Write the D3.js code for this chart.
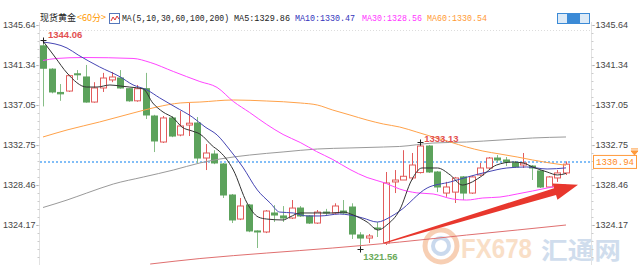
<!DOCTYPE html>
<html>
<head>
<meta charset="utf-8">
<script src="https://cdn.jsdelivr.net/npm/d3@7"></script>
<style>
body { margin: 0; background: #fff; }
svg { display: block; font-family: "Liberation Sans", Arial, sans-serif; }
</style>
</head>
<body>
<script>
var width = 640, height = 280;

// hourly candles, oldest first
var opens  = [1343.40,1340.90,1338.40,1338.55,1340.40,1340.06,1337.37,1338.88,1339.74,1339.95,1338.80,1337.50,1338.80,1335.87,1333.08,1335.66,1333.83,1334.90,1335.12,1331.36,1331.79,1330.72,1327.39,1324.81,1326.32,1323.53,1323.42,1325.46,1325.14,1324.92,1325.99,1325.14,1324.38,1325.56,1325.46,1325.67,1326.10,1323.10,1322.77,1323.85,1322.24,1328.79,1329.00,1329.22,1329.80,1332.65,1329.86,1327.60,1327.70,1329.33,1327.60,1329.54,1330.29,1331.36,1331.15,1330.83,1330.61,1330.50,1329.97,1328.25,1329.22,1329.76];
var highs  = [1344.06,1341.00,1339.30,1340.30,1340.80,1341.35,1339.50,1340.50,1340.60,1340.80,1338.90,1339.20,1340.50,1336.00,1335.87,1335.87,1336.40,1337.27,1335.76,1332.86,1332.20,1330.83,1327.50,1327.07,1326.43,1323.60,1325.78,1326.30,1326.20,1326.85,1326.20,1325.24,1325.78,1325.90,1326.50,1326.85,1326.50,1323.40,1323.20,1324.50,1329.86,1330.07,1332.20,1331.90,1333.13,1332.76,1329.97,1328.80,1329.33,1329.43,1329.43,1330.83,1331.47,1331.68,1331.47,1331.04,1331.90,1330.61,1330.07,1329.43,1330.07,1331.00];
var lows   = [1336.90,1338.30,1337.50,1338.45,1339.74,1337.30,1337.30,1338.45,1339.50,1338.80,1337.40,1337.40,1335.55,1332.00,1332.97,1333.60,1333.70,1333.72,1330.83,1330.07,1330.70,1327.07,1324.38,1324.70,1323.40,1321.70,1323.30,1324.50,1324.50,1324.81,1325.03,1324.28,1324.28,1325.14,1325.35,1325.35,1322.67,1321.56,1322.24,1322.88,1322.03,1327.60,1329.00,1329.00,1329.70,1329.76,1327.70,1327.20,1326.53,1326.85,1327.50,1329.43,1330.18,1330.94,1330.50,1330.29,1330.29,1329.00,1328.14,1328.14,1328.79,1329.54];
var closes = [1341.00,1338.45,1338.25,1340.20,1340.35,1337.37,1338.88,1339.95,1340.06,1338.88,1337.50,1338.80,1335.98,1333.19,1335.66,1333.72,1334.80,1335.10,1331.36,1331.90,1330.83,1327.39,1324.71,1326.21,1323.53,1323.42,1325.67,1325.24,1324.92,1325.99,1325.14,1324.38,1325.56,1325.46,1326.21,1325.46,1323.20,1322.77,1322.99,1323.75,1328.68,1329.00,1329.40,1330.61,1332.65,1329.86,1328.25,1328.25,1329.22,1327.60,1329.33,1330.29,1331.36,1331.15,1330.94,1330.40,1330.83,1330.29,1328.25,1329.33,1329.76,1330.70];

// moving averages: [candle index, value]
var ma5 = [[0,1343.92],[1.4,1342.20],[2.8,1340.49],[5.1,1338.98],[6.3,1338.98],[7.8,1339.20],[9,1339.09],[10.1,1338.98],[11.7,1338.77],[12.8,1337.27],[14,1336.30],[15.2,1335.66],[16.2,1334.69],[17.4,1334.26],[18.3,1333.94],[19.9,1332.55],[20.4,1332.22],[22.2,1330.07],[23.8,1326.53],[25.1,1325.03],[26.1,1324.81],[28,1324.71],[28.8,1325.03],[30,1325.46],[32,1325.46],[33.8,1325.46],[35,1325.56],[36.2,1325.24],[37.8,1324.49],[39.1,1323.63],[40.1,1324.17],[41.6,1325.78],[43,1329.00],[44.2,1330.29],[46,1330.29],[47.5,1329.54],[48.9,1328.46],[49.8,1328.68],[51,1329.32],[52.9,1330.61],[54.8,1330.93],[56,1330.83],[57.1,1330.40],[58.8,1329.86],[60,1329.54],[61,1329.70]];
var ma10 = [[0,1343.81],[2.8,1343.17],[4.1,1342.42],[6.6,1341.14],[9,1340.07],[10.5,1339.21],[12.1,1338.68],[13.6,1337.82],[15.4,1336.85],[17.4,1335.77],[18.9,1334.70],[20.3,1333.84],[21.8,1332.22],[23.3,1330.39],[25,1327.93],[26.5,1326.53],[27.6,1325.56],[29.2,1325.46],[30.8,1325.14],[32.3,1325.14],[34.6,1325.35],[35.8,1325.24],[37.3,1324.92],[39,1324.49],[40.5,1325.03],[41.6,1325.67],[44.8,1328.14],[47.5,1328.79],[49.5,1329.32],[51.8,1329.86],[54.1,1330.29],[56.4,1330.40],[58.8,1330.18],[61,1330.30]];
var ma30 = [[0,1341.83],[1.6,1342.05],[4.7,1342.15],[10.5,1342.05],[12.5,1341.62],[15.2,1340.65],[18.3,1339.57],[20.3,1338.94],[22.2,1337.43],[24.1,1336.25],[26.1,1334.96],[28,1333.89],[30,1333.03],[31.9,1332.06],[33.8,1331.20],[35.8,1330.13],[37.8,1329.27],[39.9,1328.68],[41.6,1328.03],[43.6,1327.62],[45.5,1327.50],[47.8,1326.96],[49.4,1326.85],[51.3,1327.07],[53.3,1327.17],[55.3,1327.50],[57.1,1327.82],[58.8,1328.14],[60,1328.36],[61,1328.50]];
var ma60 = [[0,1333.62],[2.8,1334.37],[6.6,1335.23],[10.5,1336.19],[13.3,1336.84],[16,1337.27],[18.3,1337.37],[22.2,1337.59],[26.1,1337.48],[30,1337.27],[32,1337.05],[33.8,1336.51],[35.8,1335.98],[37.8,1335.44],[39.7,1335.01],[41.6,1334.69],[43.6,1334.15],[45.5,1333.62],[47.5,1333.08],[49.4,1332.54],[51.3,1332.11],[53.3,1331.79],[55.3,1331.47],[57.1,1331.15],[59.1,1330.83],[61,1330.58]];
var ma100 = [[0,1326.05],[2.8,1326.85],[5.1,1327.60],[8.2,1328.57],[11.7,1329.32],[15.2,1330.07],[18.3,1330.83],[20.6,1331.25],[24.1,1331.68],[28,1332.01],[32,1332.33],[35.8,1332.44],[39.7,1332.54],[41.6,1332.60],[45.5,1332.97],[49.4,1333.08],[53.3,1333.29],[57.1,1333.51],[61,1333.62]];
var ma200 = [[12.5,1319.98],[18.3,1320.57],[26.1,1321.16],[33.8,1321.70],[41.6,1322.34],[49.4,1323.09],[55.3,1323.63],[61,1324.17]];

var maNames = ["MA5", "MA10", "MA30", "MA60"];
var maLatest = [1329.86, 1330.47, 1328.56, 1330.54];
var tickVals = [1345.64, 1341.34, 1337.05, 1332.75, 1328.46, 1324.17];
var lastPrice = 1330.94;
var arrowFrom = [39.8, 1322.24], arrowTo = [62.4, 1328.50];

var fmt = d3.format(".2f");
var up = "#e25c5c", down = "#5ca25c";

var svg = d3.select("body").append("svg")
    .attr("width", width)
    .attr("height", height);

var x = d3.scaleLinear().domain([0, opens.length - 1]).range([43, 566]);
var y = d3.scaleLinear().domain([1324.17, 1345.64]).range([225, 25]);

// watermark (behind everything)
var wm = svg.append("g").attr("opacity", 0.55);
wm.append("circle").attr("cx", 441).attr("cy", 246).attr("r", 16)
  .attr("fill", "none").attr("stroke", "#f2a878").attr("stroke-width", 5);
wm.append("circle").attr("cx", 441).attr("cy", 246).attr("r", 8)
  .attr("fill", "none").attr("stroke", "#9fbbe0").attr("stroke-width", 4);
wm.append("text").attr("x", 461).attr("y", 258)
  .attr("font-size", 27).attr("font-weight", "bold")
  .attr("textLength", 71).attr("lengthAdjust", "spacingAndGlyphs")
  .attr("fill", "#f5c59a").text("FX678");
wm.append("text").attr("x", 541).attr("y", 259)
  .attr("font-family", "Noto Sans CJK SC").attr("font-size", 24).attr("font-weight", "bold")
  .attr("textLength", 80).attr("lengthAdjust", "spacingAndGlyphs")
  .attr("fill", "#aac3e0").text("汇通网");

// top dotted rule
svg.append("line").attr("x1", 40).attr("x2", 592).attr("y1", 30.5).attr("y2", 30.5)
  .style("stroke", "#ddd").style("stroke-dasharray", "1,2");

// axes
function minorTicks(g, x0, dir) {
  var step = (tickVals[0] - tickVals[1]) / 5;
  for (var k = -30; k < 30; k++) {
    var v = tickVals[5] + k * step, py = Math.round(y(v)) + 0.5;
    if (py < 24 || py > 265) continue;
    g.append("line").attr("x1", x0).attr("x2", x0 + dir * 2).attr("y1", py).attr("y2", py)
      .style("stroke", "#ccc");
  }
}

var leftAxis = svg.append("g")
    .attr("transform", "translate(39.5,0)")
    .call(d3.axisLeft(y).tickValues(tickVals).tickFormat(fmt).tickSize(3).tickPadding(1));
var rightAxis = svg.append("g")
    .attr("transform", "translate(591.5,0)")
    .call(d3.axisRight(y).tickValues(tickVals).tickFormat(fmt).tickSize(3).tickPadding(1));

[leftAxis, rightAxis].forEach(function(g) {
  g.select(".domain").remove();
  g.selectAll(".tick line").style("stroke", "#999");
  g.selectAll("text").style("font-family", "Liberation Sans, Arial").style("font-size", "9px").style("fill", "#444");
  g.append("line").attr("y1", 22).attr("y2", 265).style("stroke", "#e2e2e2");
});
minorTicks(leftAxis, 0, -1);
minorTicks(rightAxis, 0, 1);

// current price line
svg.append("line")
  .attr("x1", 40).attr("x2", 592)
  .attr("y1", y(lastPrice)).attr("y2", y(lastPrice))
  .style("stroke", "#5aa9f5").style("stroke-width", 1.5).style("stroke-dasharray", "2,2");

// moving averages
var line = d3.line()
    .x(function(d) { return x(d[0]); })
    .y(function(d) { return y(d[1]); })
    .curve(d3.curveMonotoneX);

var maSeries = [
  {data: ma200, color: "#e07070"},
  {data: ma100, color: "#9a9a9a"},
  {data: ma60, color: "#ffa24a"},
  {data: ma30, color: "#ff44ff"},
  {data: ma10, color: "#4646b4"},
  {data: ma5, color: "#333"}
];

// candles
var candles = svg.append("g").selectAll("g").data(opens)
  .enter().append("g");

candles.append("line")
  .attr("x1", function(d, i) { return Math.round(x(i)) + 0.5; })
  .attr("x2", function(d, i) { return Math.round(x(i)) + 0.5; })
  .attr("y1", function(d, i) { return y(highs[i]); })
  .attr("y2", function(d, i) { return y(lows[i]); })
  .style("stroke", function(d, i) { return closes[i] >= d ? up : "#86bd86"; });

candles.append("rect")
  .attr("x", function(d, i) { return Math.round(x(i)) - 2.5; })
  .attr("width", 6)
  .attr("y", function(d, i) { return y(Math.max(d, closes[i])); })
  .attr("height", function(d, i) { return Math.max(1, Math.abs(y(d) - y(closes[i]))); })
  .style("fill", function(d, i) { return closes[i] >= d ? "#fff" : down; })
  .style("stroke", function(d, i) { return closes[i] >= d ? up : down; });

svg.append("g").selectAll("path").data(maSeries)
  .enter().append("path")
  .attr("d", function(d) { return line(d.data); })
  .style("fill", "none")
  .style("stroke", function(d) { return d.color; })
  .style("stroke-width", 1);

// high / low markers
var hiIdx = d3.maxIndex(highs), loIdx = d3.minIndex(lows);
var hi2Idx = 44;
var marks = [
  {i: hiIdx, v: highs[hiIdx], dx: 5, dy: -2, color: "#e25050"},
  {i: hi2Idx, v: highs[hi2Idx], dx: 4, dy: 0.5, color: "#e25050"},
  {i: loIdx, v: lows[loIdx], dx: 3, dy: 10.5, color: "#6aaa5a"}
];
marks.forEach(function(m) {
  var cx = Math.round(x(m.i)) + 0.5, cy = Math.round(y(m.v)) + 0.5;
  svg.append("path").attr("d", "M" + (cx - 3) + "," + cy + "H" + (cx + 3) + "M" + cx + "," + (cy - 3) + "V" + (cy + 3))
    .style("stroke", "#222");
  svg.append("text").attr("x", x(m.i) + m.dx).attr("y", y(m.v) + m.dy)
    .style("font-size", "9.5px").style("font-weight", "bold").style("fill", m.color)
    .text(fmt(m.v));
});

// big annotation arrow
var ax0 = x(arrowFrom[0]), ay0 = y(arrowFrom[1]), ax1 = x(arrowTo[0]), ay1 = y(arrowTo[1]);
var len = Math.hypot(ax1 - ax0, ay1 - ay0), ux = (ax1 - ax0) / len, uy = (ay1 - ay0) / len;
var nx = -uy, ny = ux, headLen = 24;
var bx = ax1 - ux * headLen, by = ay1 - uy * headLen;
var arrowPts = [
  [ax0 + nx * 0.6, ay0 + ny * 0.6],
  [bx + nx * 3.5, by + ny * 3.5],
  [bx + nx * 8.5, by + ny * 8.5],
  [ax1, ay1],
  [bx - nx * 8.5, by - ny * 8.5],
  [bx - nx * 3.5, by - ny * 3.5],
  [ax0 - nx * 0.6, ay0 - ny * 0.6]
];
svg.append("path").attr("d", "M" + arrowPts.join("L") + "Z").style("fill", "#e8372d");

// price tag on the right
var tagY = y(lastPrice);
svg.append("rect").attr("x", 593.5).attr("y", tagY - 6.5).attr("width", 43).attr("height", 13)
  .style("fill", "#fff").style("stroke", "#ff9a3c");
svg.append("text").attr("x", 596).attr("y", tagY + 3.5)
  .style("font-family", "Liberation Mono, monospace").style("font-size", "9.5px").style("fill", "#ff8a1c")
  .attr("textLength", 38).attr("lengthAdjust", "spacingAndGlyphs")
  .text(fmt(lastPrice));
svg.append("path").attr("d", "M631," + (tagY - 13) + "h7M631," + (tagY - 11) + "h7l-3.5,4z")
  .style("stroke", "#ff9a3c").style("fill", "#ff9a3c");

// header
var header = svg.append("g");
header.append("text").attr("x", 40).attr("y", 21)
  .style("font-family", "Noto Sans CJK SC").style("font-size", "9.5px").style("fill", "#222")
  .attr("textLength", 36).attr("lengthAdjust", "spacingAndGlyphs").text("现货黄金");
header.append("text").attr("x", 77).attr("y", 21)
  .style("font-family", "Noto Sans CJK SC").style("font-size", "9.5px").style("fill", "#ff9900")
  .attr("textLength", 29).attr("lengthAdjust", "spacingAndGlyphs").text("<60分>");
header.append("rect").attr("x", 109.5).attr("y", 13.5).attr("width", 10).attr("height", 10)
  .style("fill", "#fff").style("stroke", "#5577bb");
header.append("path").attr("d", "M111,21L113,17L115,20L117,16L119,19")
  .style("fill", "none").style("stroke", "#d33");

var mono = function(t, x0, w, c) {
  header.append("text").attr("x", x0).attr("y", 21)
    .style("font-family", "Liberation Mono, monospace").style("font-size", "8.5px").style("fill", c)
    .attr("textLength", w).attr("lengthAdjust", "spacingAndGlyphs").text(t);
};
mono("MA(5,10,30,60,100,200)", 122, 107, "#222");
var maX = [234, 295, 362, 427], maW = [56, 60, 60, 60], maC = ["#222", "#3333bb", "#ff33ff", "#ff9933"];
maNames.forEach(function(n, i) { mono(n + ":" + fmt(maLatest[i]), maX[i], maW[i], maC[i]); });

// toolbar buttons
[557, 568, 579].forEach(function(bx0, i) {
  header.append("rect").attr("x", bx0 + 0.5).attr("y", 13.5).attr("width", 10).attr("height", 10)
    .style("fill", i == 1 ? "#3b8ad6" : "#dceaf7").style("stroke", "#3b8ad6");
});
</script>
</body>
</html>
